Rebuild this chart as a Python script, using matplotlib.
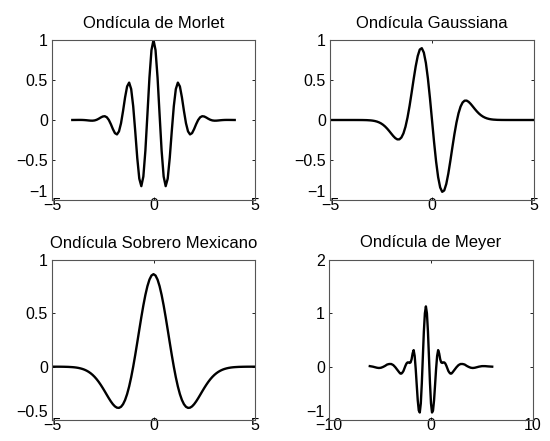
import matplotlib
matplotlib.use("Agg")
import matplotlib.pyplot as plt
from matplotlib.ticker import FuncFormatter

plt.rcParams['font.family'] = ['Liberation Sans', 'DejaVu Sans']
plt.rcParams['axes.unicode_minus'] = True

# ---------------- data ----------------
titles = ["Ondícula de Morlet", "Ondícula Gaussiana",
          "Ondícula Sobrero Mexicano", "Ondícula de Meyer"]

# Morlet (even curve): x >= 0 half, mirrored
morlet_x_half = [0.0, 0.1, 0.2, 0.3, 0.4, 0.5, 0.6, 0.7, 0.8, 0.9, 1.0, 1.1, 1.2, 1.3,
                 1.4, 1.5, 1.6, 1.7, 1.8, 1.9, 2.0, 2.1, 2.2, 2.3, 2.4, 2.5, 2.6, 2.7,
                 2.8, 2.9, 3.0, 3.1, 3.2, 3.3, 3.4, 3.5, 3.6, 3.7, 3.8, 3.9, 4.0]
morlet_y_half = [1.0, 0.8732, 0.5296, 0.0676, -0.3842, -0.7070, -0.8269, -0.7330,
                 -0.4746, -0.1406, 0.1721, 0.3870, 0.4674, 0.4195, 0.2830, 0.1125,
                 -0.0405, -0.1419, -0.1803, -0.1640, -0.1136, -0.0524, 0.0004, 0.0343,
                 0.0474, 0.0438, 0.0309, 0.0155, 0.0027, -0.0053, -0.0084, -0.0080,
                 -0.0057, -0.0030, -0.0009, 0.0005, 0.0010, 0.0010, 0.0007, 0.0004, 0.0001]

# Gaussian (odd curve): x >= 0 half, mirrored with sign change
gauss_x_half = [0.0, 0.1, 0.2, 0.3, 0.4, 0.5, 0.6, 0.7, 0.8, 0.9, 1.0, 1.1, 1.2, 1.3,
                1.4, 1.5, 1.6, 1.7, 1.8, 1.9, 2.0, 2.1, 2.2, 2.3, 2.4, 2.5, 2.6, 2.7,
                2.8, 2.9, 3.0, 3.2, 3.4, 3.6, 3.8, 4.0, 4.5, 5.0]
gauss_y_half = [0.0, -0.2722, -0.5176, -0.7133, -0.8427, -0.8981, -0.8805, -0.7992,
                -0.6694, -0.5097, -0.3394, -0.1755, -0.0315, 0.0841, 0.1674, 0.2188,
                0.2419, 0.2423, 0.2263, 0.2001, 0.1690, 0.1371, 0.1072, 0.0811, 0.0594,
                0.0423, 0.0293, 0.0197, 0.0129, 0.0082, 0.0051, 0.0018, 0.0006, 0.0002,
                0.00005, 0.0, 0.0, 0.0]

# Mexican hat (even curve): x >= 0 half, mirrored
mex_x_half = [0.0, 0.1, 0.2, 0.3, 0.4, 0.5, 0.6, 0.7, 0.8, 0.9, 1.0, 1.1, 1.2, 1.3,
              1.4, 1.5, 1.6, 1.7, 1.8, 1.9, 2.0, 2.1, 2.2, 2.3, 2.4, 2.5, 2.6, 2.7,
              2.8, 2.9, 3.0, 3.1, 3.2, 3.3, 3.4, 3.5, 3.6, 3.7, 3.8, 3.9, 4.0, 4.2,
              4.4, 4.6, 4.8, 5.0]
mex_y_half = [0.8673, 0.8544, 0.8161, 0.7545, 0.6725, 0.5741, 0.4636, 0.3462, 0.2267,
              0.1099, 0.0, -0.0995, -0.1858, -0.2571, -0.3125, -0.3520, -0.3762,
              -0.3865, -0.3845, -0.3723, -0.3521, -0.3261, -0.2962, -0.2642, -0.2317,
              -0.2001, -0.1701, -0.1425, -0.1177, -0.0959, -0.0771, -0.0612, -0.0479,
              -0.0371, -0.0283, -0.0214, -0.0160, -0.0117, -0.0085, -0.0061, -0.0044,
              -0.0021, -0.0010, -0.0004, -0.0002, -0.0001]

# Meyer
meyer_x = [-6.0, -5.7, -5.5, -5.3, -5.1, -4.9, -4.7, -4.5, -4.3, -4.1, -3.9, -3.7,
           -3.5, -3.3, -3.1, -3.0, -2.9, -2.8, -2.7, -2.6, -2.5, -2.4, -2.3, -2.2,
           -2.1, -2.0, -1.9, -1.8, -1.7, -1.6, -1.5, -1.4, -1.3, -1.2, -1.1, -1.0,
           -0.9, -0.8, -0.7, -0.6, -0.5, -0.4, -0.3, -0.2, -0.1, 0.0, 0.1, 0.2, 0.3,
           0.4, 0.5, 0.6, 0.7, 0.8, 0.9, 1.0, 1.1, 1.2, 1.3, 1.4, 1.5, 1.6, 1.7, 1.8,
           1.9, 2.0, 2.1, 2.3, 2.5, 2.7, 2.9, 3.1, 3.3, 3.5, 3.7, 3.9, 4.1, 4.3, 4.5,
           4.7, 5.0, 5.3, 5.6, 6.0]
meyer_y = [0.01, 0.0, -0.01, -0.02, -0.025, -0.02, -0.005, 0.015, 0.04, 0.05, 0.05,
           0.03, -0.01, -0.06, -0.11, -0.13, -0.13, -0.11, -0.08, -0.03, 0.02, 0.06,
           0.08, 0.08, 0.07, 0.08, 0.14, 0.25, 0.31, 0.20, -0.04, -0.34, -0.63, -0.82,
           -0.86, -0.69, -0.31, 0.18, 0.66, 1.00, 1.13, 1.00, 0.66, 0.18, -0.31,
           -0.69, -0.86, -0.82, -0.63, -0.34, -0.04, 0.20, 0.31, 0.25, 0.14, 0.08,
           0.07, 0.08, 0.08, 0.06, 0.02, -0.03, -0.08, -0.11, -0.13, -0.13, -0.11,
           -0.06, -0.01, 0.03, 0.05, 0.05, 0.04, 0.015, -0.005, -0.02, -0.025, -0.02,
           -0.01, 0.0, 0.01, 0.01, 0.005, 0.0]

xlims = [(-5, 5), (-5, 5), (-5, 5), (-10, 10)]
ylims = [(-1, 1), (-1, 1), (-0.5, 1), (-1, 2)]
xticks = [[-5, 0, 5], [-5, 0, 5], [-5, 0, 5], [-10, 0, 10]]
yticks = [[-1, -0.5, 0, 0.5, 1], [-1, -0.5, 0, 0.5, 1], [-0.5, 0, 0.5, 1], [-1, 0, 1, 2]]

# ---------------- build full curves ----------------
morlet_x = [-v for v in morlet_x_half[:0:-1]] + morlet_x_half
morlet_y = morlet_y_half[:0:-1] + morlet_y_half
gauss_x = [-v for v in gauss_x_half[:0:-1]] + gauss_x_half
gauss_y = [-v for v in gauss_y_half[:0:-1]] + gauss_y_half
mex_x = [-v for v in mex_x_half[:0:-1]] + mex_x_half
mex_y = mex_y_half[:0:-1] + mex_y_half

curves = [(morlet_x, morlet_y), (gauss_x, gauss_y), (mex_x, mex_y), (meyer_x, meyer_y)]

W, H = 550, 441
fig = plt.figure(figsize=(W / 100, H / 100), dpi=100)
boxes = [(52, 40, 255, 200), (330, 40, 534, 200), (52, 260, 255, 420), (329, 260, 533, 420)]

fmt = FuncFormatter(lambda v, p: ('%g' % v).replace('-', '\u2212'))

for i, (l, t, r, b) in enumerate(boxes):
    ax = fig.add_axes([l / W, (H - b) / H, (r - l) / W, (b - t) / H])
    x, y = curves[i]
    ax.plot(x, y, color='black', lw=1.7, solid_joinstyle='round')
    ax.set_xlim(*xlims[i])
    ax.set_ylim(*ylims[i])
    ax.set_xticks(xticks[i])
    ax.set_yticks(yticks[i])
    ax.xaxis.set_major_formatter(fmt)
    ax.yaxis.set_major_formatter(fmt)
    ax.tick_params(direction='in', top=True, right=True, length=2.5, width=0.6,
                   labelsize=11.5, colors='black')
    ax.tick_params(axis='x', pad=-1.5)
    ax.tick_params(axis='y', pad=3)
    for s in ax.spines.values():
        s.set_color('#555555')
        s.set_linewidth(0.8)
    ax.set_title(titles[i], fontsize=12, pad=9)
    # bottom y tick label sits just above the axis line, as in the original
    ax.get_yticklabels()[0].set_verticalalignment('bottom')

fig.savefig('out.png', dpi=100, facecolor='white')
